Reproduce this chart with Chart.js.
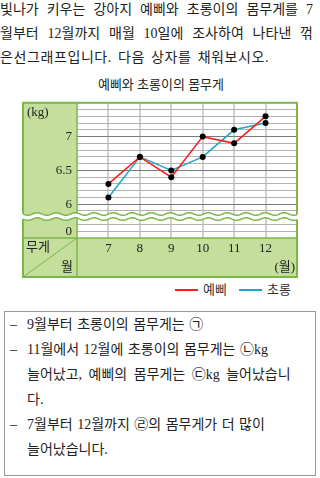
<!DOCTYPE html>
<html>
<head>
<meta charset="utf-8">
<script src="https://cdn.jsdelivr.net/npm/chart.js@4.4.1/dist/chart.umd.min.js"></script>
<style>
  html, body { margin: 0; padding: 0; background: #fff; }
  body {
    width: 320px; height: 478px; position: relative; overflow: hidden;
    font-family: "Liberation Serif", "Noto Sans CJK KR", serif; color: #222;
  }
  .q { position: absolute; left: 0; top: -2px; width: 313px; font-size: 14px; line-height: 24px; }
  .q .j { text-align: justify; text-align-last: justify; }
  .q .l { letter-spacing: 0.6px; word-spacing: 2px; }
  .title { position: absolute; left: 0; width: 322px; top: 76px; line-height: 18px; font-size: 13px; text-align: center; }
  #wrap { position: absolute; left: 0; top: 90px; width: 320px; height: 190px; }
  .leg { position: absolute; top: 281px; height: 18px; line-height: 18px; font-size: 13px; color: #333; }
  .ln { position: absolute; top: 289px; height: 2px; width: 23px; }
  .box { position: absolute; left: 4px; top: 311px; width: 310px; height: 163px; border: 1.5px solid #9a9a9a; }
  .txt { position: absolute; left: 0; top: 312px; width: 308px; font-size: 14px; line-height: 25px; }
  .txt div { position: relative; margin-left: 27px; white-space: nowrap; word-spacing: 1px; }
  .txt .d::before { content: "\2013"; position: absolute; left: -17px; }
</style>
</head>
<body>
<div class="q">
  <div class="j">빛나가 키우는 강아지 예삐와 초롱이의 몸무게를 7</div>
  <div class="j">월부터 12월까지 매월 10일에 조사하여 나타낸 꺾</div>
  <div class="l">은선그래프입니다. 다음 상자를 채워보시오.</div>
</div>
<div class="title">예삐와 초롱이의 몸무게</div>
<div id="wrap"><canvas id="chart" width="320" height="190"></canvas></div>
<span class="ln" style="left:175px;background:#ff1c1c"></span>
<span class="leg" style="left:203px">예삐</span>
<span class="ln" style="left:239px;background:#1fa9c6"></span>
<span class="leg" style="left:267px">초롱</span>
<div class="box"></div>
<div class="txt">
  <div class="d">9월부터 초롱이의 몸무게는 ㉠</div>
  <div class="d">11월에서 12월에 초롱이의 몸무게는 ㉡kg</div>
  <div style="word-spacing:3px">늘어났고, 예삐의 몸무게는 ㉢kg 늘어났습니</div>
  <div>다.</div>
  <div class="d">7월부터 12월까지 ㉣의 몸무게가 더 많이</div>
  <div>늘어났습니다.</div>
</div>
<script>
const months = [7, 8, 9, 10, 11, 12];
const yebbi = [6.3, 6.7, 6.4, 7.0, 6.9, 7.3];
const chorong = [6.1, 6.7, 6.5, 6.7, 7.1, 7.2];
const yTicks = [5.6, 6, 6.5, 7];
const yTickText = ['0', '6', '6.5', '7'];

const GREEN = '#c4df9b';
const GREEN_LINE = '#7cb74b';
const FONT = '"Liberation Serif", "Noto Sans CJK KR", serif';

const toPoints = arr => arr.map((v, i) => ({ x: months[i], y: v }));

const tableFrame = {
  id: 'tableFrame',
  beforeDraw(chart) {
    const { ctx, chartArea: a } = chart;
    ctx.save();
    ctx.fillStyle = GREEN;
    ctx.fillRect(23, a.top, a.left - 23, a.bottom - a.top);
    ctx.fillRect(23, a.bottom, a.right - 23, 39);
    ctx.restore();
  },
  afterDraw(chart) {
    const { ctx, chartArea: a } = chart;
    const bottom = a.bottom + 39;
    ctx.save();
    ctx.strokeStyle = GREEN_LINE;
    ctx.lineWidth = 2;
    ctx.strokeRect(23, a.top, a.right - 23, bottom - a.top);
    ctx.lineWidth = 1.5;
    ctx.beginPath();
    ctx.moveTo(a.left, a.top); ctx.lineTo(a.left, bottom);
    ctx.moveTo(23, a.bottom); ctx.lineTo(a.right, a.bottom);
    ctx.stroke();
    ctx.lineWidth = 1;
    ctx.beginPath();
    ctx.moveTo(23, bottom); ctx.lineTo(a.left, a.bottom);
    ctx.stroke();

    // wavy break between 0 and 6
    const yTop = chart.scales.y.getPixelForValue(5.855);
    const yBot = chart.scales.y.getPixelForValue(5.78);
    const wave = (x, y0) => y0 + 1.3 * Math.sin((x - 23) / 19 * 2 * Math.PI);
    ctx.beginPath();
    for (let x = 21; x <= 299; x++) ctx.lineTo(x, wave(x, yTop));
    for (let x = 299; x >= 21; x--) ctx.lineTo(x, wave(x, yBot));
    ctx.closePath();
    ctx.fillStyle = '#fff';
    ctx.fill();
    ctx.strokeStyle = GREEN_LINE;
    ctx.lineWidth = 1.5;
    [yTop, yBot].forEach(y0 => {
      ctx.beginPath();
      for (let x = 23; x <= 297; x++) ctx.lineTo(x, wave(x, y0));
      ctx.stroke();
    });

    ctx.fillStyle = '#222';
    ctx.font = '13px ' + FONT;
    ctx.textBaseline = 'middle';
    ctx.textAlign = 'left';
    ctx.fillText('(kg)', 27, a.top + 10);
    ctx.fillText('무게', 26, a.bottom + 10);
    ctx.textAlign = 'right';
    ctx.fillText('월', 73, a.bottom + 30);
    ctx.fillText('(월)', 295, a.bottom + 30);
    ctx.restore();
  }
};

new Chart(document.getElementById('chart'), {
  type: 'line',
  data: {
    datasets: [
      {
        label: '예삐',
        data: toPoints(yebbi),
        borderColor: '#ff1c1c',
        borderWidth: 1.6,
        pointRadius: 3,
        pointBorderWidth: 0,
        pointBackgroundColor: '#000'
      },
      {
        label: '초롱',
        data: toPoints(chorong),
        borderColor: '#1fa9c6',
        borderWidth: 1.6,
        pointRadius: 3,
        pointBorderWidth: 0,
        pointBackgroundColor: '#000'
      }
    ]
  },
  options: {
    responsive: false,
    animation: false,
    layout: { padding: { left: 23, right: 23, top: 10.7, bottom: 3 } },
    plugins: { legend: { display: false }, tooltip: { enabled: false } },
    scales: {
      x: {
        type: 'linear',
        min: 6,
        max: 13,
        afterFit(s) { s.height = 39; },
        afterBuildTicks(s) { s.ticks = [6, 7, 8, 9, 10, 11, 12, 13].map(v => ({ value: v })); },
        ticks: {
          autoSkip: false,
          maxRotation: 0,
          padding: 3,
          color: '#222',
          font: { family: FONT, size: 13 },
          callback: v => (months.includes(v) ? String(v) : '')
        },
        grid: {
          drawTicks: false,
          lineWidth: 2,
          color: c => (c.tick && months.includes(c.tick.value) ? '#d0d0d0' : 'rgba(0,0,0,0)')
        },
        border: { display: false }
      },
      y: {
        min: 5.5,
        max: 7.5,
        afterFit(s) { s.width = 54; },
        afterBuildTicks(s) {
          const t = [];
          for (let i = 55; i <= 75; i++) t.push({ value: i / 10 });
          s.ticks = t;
        },
        ticks: {
          autoSkip: false,
          padding: 5,
          color: '#222',
          font: { family: FONT, size: 13 },
          callback: v => {
            const k = yTicks.findIndex(t => Math.abs(t - v) < 1e-6);
            return k < 0 ? '' : yTickText[k];
          }
        },
        grid: {
          drawTicks: false,
          lineWidth: 1,
          color: c => {
            const v = Math.round(c.tick.value * 10);
            if (v === 55 || v === 75) return 'rgba(0,0,0,0)';
            return (v === 60 || v === 65 || v === 70) ? '#7a7a7a' : '#b2b2b2';
          }
        },
        border: { display: false }
      }
    }
  },
  plugins: [tableFrame]
});
</script>
</body>
</html>
